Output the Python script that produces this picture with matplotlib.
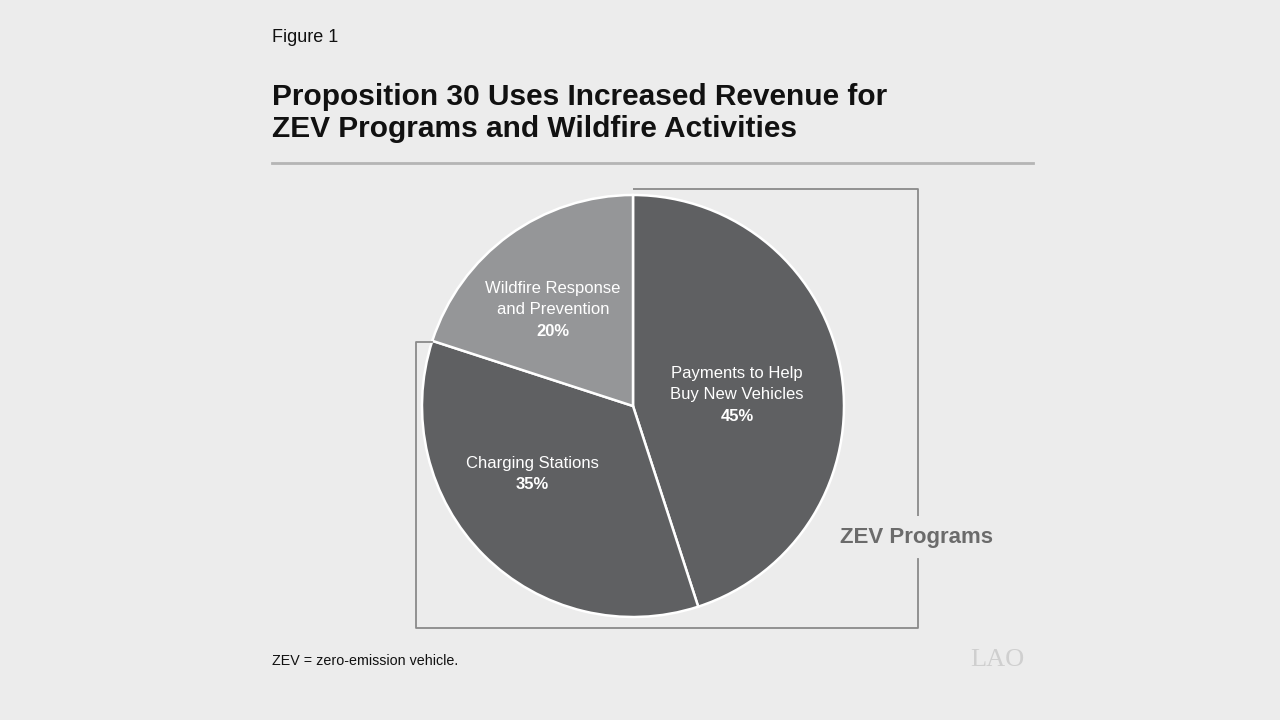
import matplotlib.pyplot as plt

# shares of revenue, clockwise from 12 o'clock
labels = ["Payments to Help\nBuy New Vehicles", "Charging Stations", "Wildfire Response\nand Prevention"]
shares = [45, 35, 20]
colors = ["#5f6062", "#5f6062", "#959698"]

plt.rcParams["font.family"] = ["Liberation Sans", "DejaVu Sans"]

fig = plt.figure(figsize=(12.8, 7.2), dpi=100)
fig.patch.set_facecolor("#ececec")
ax = fig.add_axes([0, 0, 1, 1])

def Y(y):
    # pixel row from top -> data y
    return 720 - y

# pie
cx, cy, r = 633, Y(406), 211
wedges, texts = ax.pie(shares, colors=colors, startangle=90, counterclock=False,
                       center=(cx, cy), radius=r, frame=True,
                       wedgeprops=dict(edgecolor="white", linewidth=1.8))
ax.set_xlim(0, 1280)
ax.set_ylim(0, 720)
ax.set_aspect("equal")
ax.axis("off")

# label block centres (pixels from top)
label_pos = [(737, 395), (532, 474), (553, 310)]
L = 21.5
for lab, s, (x, y) in zip(labels, shares, label_pos):
    n = lab.count("\n") + 1
    ax.text(x, Y(y - L / 2), lab, ha="center", va="center", color="white",
            fontsize=12, linespacing=1.5)
    ax.text(x, Y(y + n * L / 2), f"{s}%", ha="center", va="center",
            color="white", fontsize=12, fontweight="bold")

# bracket around ZEV slices
lc = "#8a8a8a"
ax.plot([633, 918, 918], [Y(189), Y(189), Y(516)], color=lc, lw=1.3, solid_capstyle="butt")
ax.plot([918, 918, 416, 416, 432], [Y(559), Y(628), Y(628), Y(342), Y(342)], color=lc, lw=1.3)
ax.text(917, Y(538), "ZEV Programs", ha="center", va="center", color="#6b6b6b",
        fontsize=16, fontweight="bold")

# header
ax.text(272, Y(38), "Figure 1", ha="left", va="center", fontsize=13, color="#111111")
ax.text(272, Y(113), "Proposition 30 Uses Increased Revenue for\nZEV Programs and Wildfire Activities",
        ha="left", va="center", fontsize=21.5, fontweight="bold", color="#111111", linespacing=1.22)
ax.plot([272, 1033], [Y(163), Y(163)], color="#b5b5b5", lw=2)

# footer
ax.text(272, Y(661), "ZEV = zero-emission vehicle.", ha="left", va="center", fontsize=10.3, color="#111111")
ax.text(997, Y(660), "LAO", ha="center", va="center", fontsize=19, color="#cfcfcf",
        family="Liberation Serif")

fig.savefig("out.png", dpi=100, facecolor=fig.get_facecolor())
